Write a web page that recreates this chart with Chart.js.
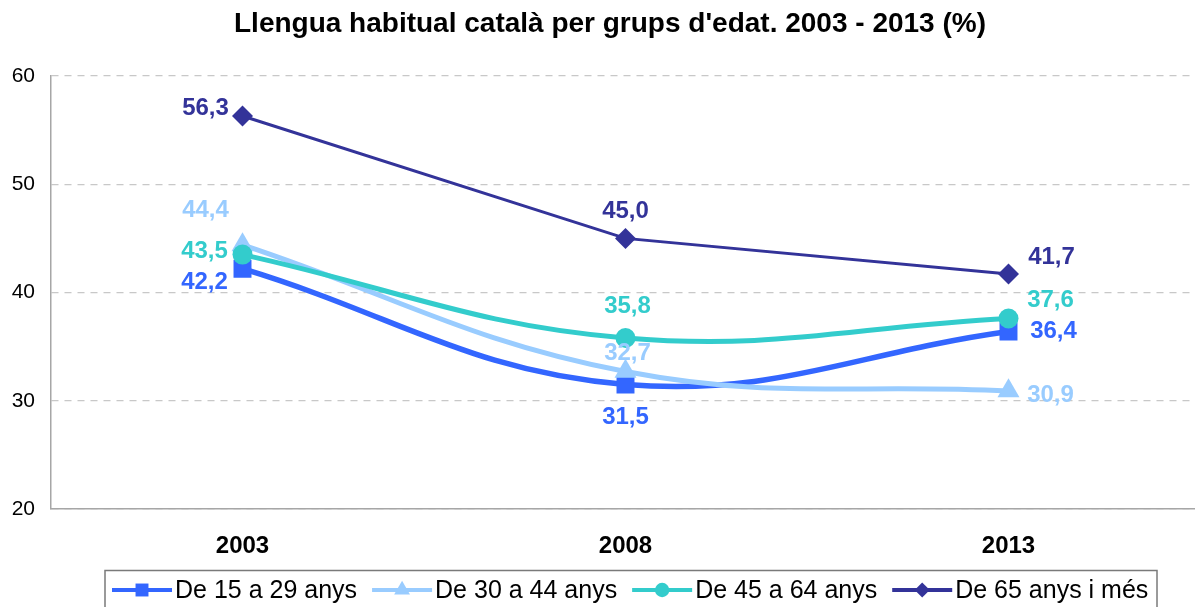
<!DOCTYPE html>
<html>
<head>
<meta charset="utf-8">
<script src="https://cdn.jsdelivr.net/npm/chart.js@4/dist/chart.umd.min.js"></script>
<style>
  html, body { margin: 0; padding: 0; background: #fff; overflow: hidden; }
  #chart { display: block; }
</style>
</head>
<body>
<canvas id="chart" width="1200" height="607"></canvas>
<script>
// values
var years = ['2003', '2008', '2013'];
var groupNames = ['De 15 a 29 anys', 'De 30 a 44 anys', 'De 45 a 64 anys', 'De 65 anys i més'];
var age15to29 = [42.2, 31.5, 36.4];
var age30to44 = [44.4, 32.7, 30.9];
var age45to64 = [43.5, 35.8, 37.6];
var age65plus = [56.3, 45.0, 41.7];
var yTicks = [20, 30, 40, 50, 60];

var titleText = "Llengua habitual català per grups d'edat. 2003 - 2013 (%)";
var FONT = '"Liberation Sans", Arial, Helvetica, sans-serif';

// where each value label sits relative to its point (dx, dy)
var labelOffsets = [
  [[-38, 14], [0, 33], [45, 0]],
  [[-37, -34], [2, -18], [42, 4]],
  [[-38, -3], [2, -32], [42, -18]],
  [[-37, -8], [0, -27], [43, -17]]
];

var colors = ['#3366FF', '#99CCFF', '#33CCCC', '#333399'];
var markers = ['rect', 'triangle', 'circle', 'rectRot'];
var markerSize = [12.7, 12.7, 10, 10.5];

function fmt(v) {
  return v.toFixed(1).replace('.', ',');
}

// title on top
var titlePlugin = {
  id: 'titleText',
  afterDraw: function (chart) {
    var ctx = chart.ctx;
    ctx.save();
    ctx.fillStyle = '#000';
    ctx.font = 'bold 28px ' + FONT;
    ctx.textAlign = 'center';
    ctx.textBaseline = 'alphabetic';
    ctx.fillText(titleText, 610, 32);
    ctx.restore();
  }
};

// the numbers next to every point
var valueLabels = {
  id: 'valueLabels',
  afterDatasetsDraw: function (chart) {
    var ctx = chart.ctx;
    ctx.save();
    ctx.font = 'bold 24px ' + FONT;
    ctx.textAlign = 'center';
    ctx.textBaseline = 'middle';
    chart.data.datasets.forEach(function (ds, i) {
      var meta = chart.getDatasetMeta(i);
      ctx.fillStyle = ds.borderColor;
      meta.data.forEach(function (pt, j) {
        var off = labelOffsets[i][j];
        ctx.fillText(fmt(ds.data[j]), pt.x + off[0], pt.y + off[1]);
      });
    });
    ctx.restore();
  }
};

// excel style legend box at the bottom (cut off by the picture edge)
var boxLegend = {
  id: 'boxLegend',
  afterDraw: function (chart) {
    var ctx = chart.ctx;
    ctx.save();
    ctx.strokeStyle = '#7a7a7a';
    ctx.lineWidth = 1.5;
    ctx.strokeRect(105, 570.5, 1052, 60);
    ctx.font = '25px ' + FONT;
    ctx.textBaseline = 'middle';
    ctx.textAlign = 'left';
    var x = 112, y = 590;
    chart.data.datasets.forEach(function (ds, i) {
      ctx.strokeStyle = ds.borderColor;
      ctx.fillStyle = ds.borderColor;
      ctx.lineWidth = 4;
      ctx.beginPath();
      ctx.moveTo(x, y);
      ctx.lineTo(x + 60, y);
      ctx.stroke();
      Chart.helpers.drawPoint(ctx, {
        pointStyle: ds.pointStyle,
        rotation: 0,
        radius: ds.pointRadius * 0.72,
        borderWidth: 0
      }, x + 30, y);
      ctx.fillStyle = '#000';
      ctx.fillText(ds.label, x + 63, y + 1);
      x += 63 + ctx.measureText(ds.label).width + 15;
    });
    ctx.restore();
  }
};

function series(i, values, width, tension) {
  return {
    label: groupNames[i],
    data: values,
    borderColor: colors[i],
    backgroundColor: colors[i],
    borderWidth: width,
    tension: tension,
    pointStyle: markers[i],
    pointRadius: markerSize[i],
    pointBorderWidth: 0,
    pointBackgroundColor: colors[i],
    order: 4 - i
  };
}

new Chart(document.getElementById('chart'), {
  type: 'line',
  data: {
    labels: years,
    datasets: [
      series(0, age15to29, 5.5, 0.4),
      series(1, age30to44, 5, 0.4),
      series(2, age45to64, 5, 0.4),
      series(3, age65plus, 3, 0)
    ]
  },
  options: {
    responsive: false,
    animation: false,
    devicePixelRatio: 1,
    layout: { autoPadding: false, padding: { top: 76, left: 0, right: 0, bottom: 0 } },
    plugins: {
      legend: { display: false },
      title: { display: false },
      tooltip: { enabled: false }
    },
    scales: {
      x: {
        offset: true,
        grid: { display: false, drawTicks: false },
        border: { display: true, color: '#a6a6a6', width: 1.5 },
        ticks: {
          color: '#000',
          padding: 23,
          font: { family: FONT, size: 24, weight: 'bold' }
        },
        afterFit: function (s) {
          s.height = 98;
          s.paddingLeft = 0;
          s.paddingRight = 0;
        }
      },
      y: {
        min: yTicks[0],
        max: yTicks[yTicks.length - 1],
        afterBuildTicks: function (s) {
          s.ticks = yTicks.map(function (v) { return { value: v }; });
        },
        grid: { color: '#c8c8c8', lineWidth: 1.2, drawTicks: false },
        border: { display: true, color: '#a6a6a6', width: 1.5, dash: [7, 6] },
        ticks: {
          color: '#000',
          padding: 16,
          font: { family: FONT, size: 21 }
        },
        afterFit: function (s) {
          s.width = 51;
          s.paddingTop = 0;
          s.paddingBottom = 0;
        }
      }
    }
  },
  plugins: [titlePlugin, valueLabels, boxLegend]
});
</script>
</body>
</html>
